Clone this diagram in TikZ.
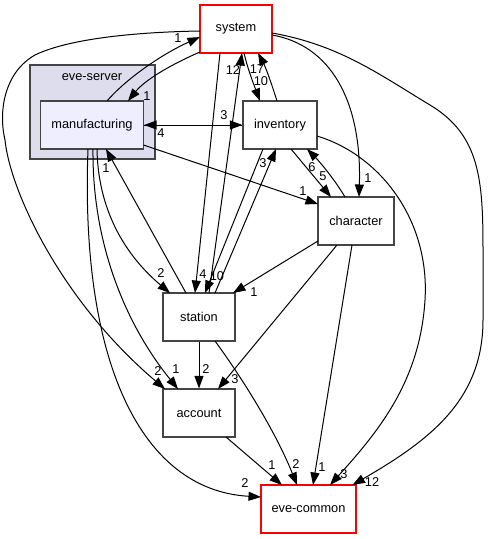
\documentclass[tikz,border=0pt]{standalone}
\usepackage{fontspec}
\setmainfont{Liberation Sans}
\usetikzlibrary{arrows.meta,calc}
\definecolor{clfill}{HTML}{DDDDEE}
\definecolor{mfill}{HTML}{EEEEFF}
\definecolor{bord}{HTML}{444444}
\begin{document}
\begin{tikzpicture}[x=1pt,y=-1pt,
  every node/.style={font=\fontsize{12.8}{15}\selectfont},
  dirbox/.style={draw=bord,line width=1.2pt,fill=white,minimum height=48pt,inner sep=0pt},
  redbox/.style={dirbox,draw=red},
  dep/.style={draw=black,line width=1pt,-{Triangle[length=12.5pt,width=9pt]}},
  lbl/.style={inner sep=0pt}]
\useasboundingbox (0,0) rectangle (488,539);
% cluster
\node[draw=bord,line width=1.2pt,fill=clfill,minimum width=125pt,minimum height=94pt,inner sep=0pt] (cluster) at (92.5,112) {};
\node[lbl] (clusterlabel) at (92,77) {eve-server};
% nodes
\node[dirbox,fill=mfill,minimum width=103pt] (manufacturing) at (92,125) {manufacturing};
\node[redbox,minimum width=72pt] (system) at (236,29) {system};
\node[dirbox,minimum width=74pt] (inventory) at (280,125) {inventory};
\node[dirbox,minimum width=76pt] (character) at (356,221) {character};
\node[dirbox,minimum width=72pt] (station) at (199,317) {station};
\node[dirbox,minimum width=72pt] (account) at (199,413) {account};
\node[redbox,minimum width=95pt] (evecommon) at (308.5,509) {eve-common};
% edges
\draw[dep] ($(system)+(-36,23)$) .. controls (170,65) and (145,80) .. ($(manufacturing)+(36,-24)$);
\draw[dep] ($(manufacturing)+(15,-24)$) .. controls (125,80) and (160,55) .. ($(system)+(-36,8)$);
\draw[dep] ($(system)+(-36,2)$) .. controls (140,32) and (70,38) .. (35,55) .. controls (5,72) and (-2,110) .. (5,140) .. controls (10,190) and (60,300) .. ($(account)+(-34,-24)$);
\draw[dep] (manufacturing.east) -- (inventory.west);
\draw[dep] (inventory.west) -- (manufacturing.east);
\draw[dep] ($(manufacturing)+(51.5,20)$) -- ($(character)+(-38,-17)$);
\draw[dep] ($(manufacturing)+(5,24)$) .. controls (98,210) and (125,255) .. ($(station)+(-29,-24)$);
\draw[dep] ($(manufacturing)+(1,24)$) .. controls (92,250) and (130,330) .. ($(account)+(-21,-24)$);
\draw[dep] ($(manufacturing)+(-4,24)$) .. controls (80,360) and (140,490) .. ($(evecommon)+(-47.5,-12)$);
\draw[dep] ($(station)+(-13,-24)$) -- ($(manufacturing)+(14,24)$);
\draw[dep] ($(system)+(8,24)$) .. controls (248,70) and (254,85) .. ($(inventory)+(-20,-24)$);
\draw[dep] ($(inventory)+(-3,-24)$) .. controls (272,85) and (266,68) .. ($(system)+(22,24)$);
\draw[dep] ($(station)+(10,-24)$) -- ($(system)+(6,24)$);
\draw[dep] ($(system)+(-16,24)$) -- ($(station)+(-4,-24)$);
\draw[dep] ($(inventory)+(-17,24)$) -- ($(station)+(6,-24)$);
\draw[dep] ($(station)+(16,-24)$) -- ($(inventory)+(-4,24)$);
\draw[dep] ($(system)+(36,6)$) .. controls (330,45) and (362,100) .. ($(character)+(3,-24)$);
\draw[dep] ($(system)+(36,4)$) .. controls (340,45) and (380,75) .. (430,105) .. controls (480,135) and (483,180) .. (483,250) -- (483,320) .. controls (483,400) and (430,440) .. ($(evecommon)+(44,-24)$);
\draw[dep] ($(inventory)+(11,24)$) -- ($(character)+(-25,-24)$);
\draw[dep] ($(character)+(-11,-24)$) .. controls (335,180) and (320,162) .. ($(inventory)+(27,24)$);
\draw[dep] ($(inventory)+(37,11)$) .. controls (380,155) and (430,220) .. (425,300) .. controls (420,380) and (380,430) .. ($(evecommon)+(21.5,-24)$);
\draw[dep] ($(character)+(-38,20)$) -- ($(station)+(34,-24)$);
\draw[dep] ($(character)+(-19,24)$) -- ($(account)+(19,-24)$);
\draw[dep] ($(character)+(-4,24)$) -- ($(evecommon)+(4.5,-24)$);
\draw[dep] (station.south) -- (account.north);
\draw[dep] ($(station)+(16,24)$) .. controls (240,375) and (275,430) .. ($(evecommon)+(-11.5,-24)$);
\draw[dep] ($(account)+(27,24)$) -- ($(evecommon)+(-26.5,-24)$);
% labels
\node[lbl] (l1) at (147,96) {1};
\node[lbl] (l2) at (178,38) {1};
\node[lbl] (l3) at (158,371) {2};
\node[lbl] (l4) at (176,369) {1};
\node[lbl] (l5) at (161,273) {2};
\node[lbl] (l6) at (245,483) {2};
\node[lbl] (l7) at (106,168) {1};
\node[lbl] (l8) at (303,191) {1};
\node[lbl] (l9) at (224,115) {3};
\node[lbl] (l10) at (161,133) {4};
\node[lbl] (l11) at (233,70) {12};
\node[lbl] (l12) at (257,69) {17};
\node[lbl] (l13) at (261,81) {10};
\node[lbl] (l14) at (203,274) {4};
\node[lbl] (l15) at (217,276) {10};
\node[lbl] (l16) at (263,163) {3};
\node[lbl] (l17) at (368,178) {1};
\node[lbl] (l18) at (372,482) {12};
\node[lbl] (l19) at (323,176) {5};
\node[lbl] (l20) at (312,167) {6};
\node[lbl] (l21) at (344,474) {3};
\node[lbl] (l22) at (254,292) {1};
\node[lbl] (l23) at (235,379) {3};
\node[lbl] (l24) at (322,467) {1};
\node[lbl] (l25) at (206,369) {2};
\node[lbl] (l26) at (296,464) {2};
\node[lbl] (l27) at (272,465) {1};
\end{tikzpicture}
\end{document}
